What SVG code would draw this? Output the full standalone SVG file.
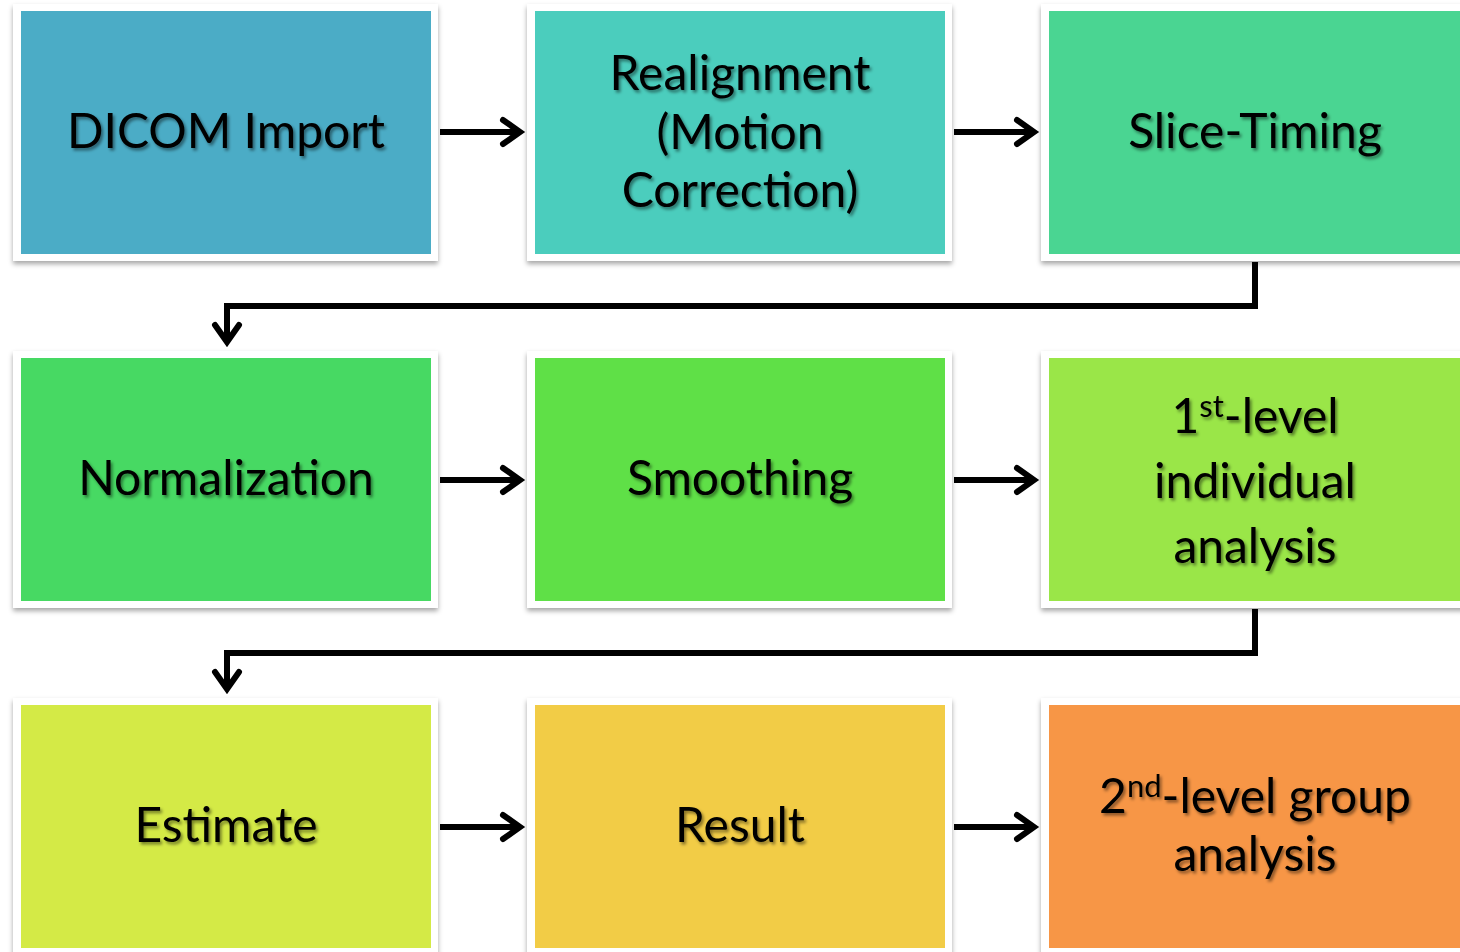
<svg xmlns="http://www.w3.org/2000/svg" width="1460" height="952" viewBox="0 0 1460 952">
<defs>
<filter id="fs" x="-5%" y="-5%" width="110%" height="115%"><feDropShadow dx="0" dy="3" stdDeviation="2.5" flood-color="#000" flood-opacity="0.35"/></filter>
<filter id="ts" x="-5%" y="-10%" width="110%" height="130%"><feDropShadow dx="2" dy="2.5" stdDeviation="1.5" flood-color="#000" flood-opacity="0.45"/></filter>
<marker id="ah" markerUnits="userSpaceOnUse" markerWidth="50" markerHeight="50" viewBox="-25 -25 50 50" refX="0" refY="0" orient="auto"><path d="M-17,-12 L0,0 L-17,12" fill="none" stroke="#000" stroke-width="6" stroke-linecap="round" stroke-linejoin="miter"/></marker>
</defs>
<style>
.frame{fill:#fff;filter:url(#fs)}
.t{font-family:Lato,"Open Sans",sans-serif;font-size:48px;fill:#000;text-anchor:middle;filter:url(#ts)}
.c{fill:none;stroke:#000;stroke-width:6;marker-end:url(#ah)}
.sup{font-size:31px}
</style>
<rect width="1460" height="952" fill="#fff"/>
<g id="n1"><rect class="frame" x="13" y="4" width="425" height="257"/><rect x="21" y="11" width="410" height="243" fill="#4BACC6"/><text class="t" x="226" y="148">DICOM Import</text></g>
<g id="n2"><rect class="frame" x="527" y="4" width="425" height="257"/><rect x="535" y="11" width="410" height="243" fill="#4BCDBD"/><text class="t" x="740" y="90">Realignment</text><text class="t" x="740" y="149">(Motion</text><text class="t" x="740" y="207">Correction)</text></g>
<g id="n3"><rect class="frame" x="1041" y="4" width="425" height="257"/><rect x="1049" y="11" width="411" height="243" fill="#4AD592"/><text class="t" x="1255" y="148">Slice-Timing</text></g>
<g id="n4"><rect class="frame" x="13" y="351" width="425" height="257"/><rect x="21" y="358" width="410" height="243" fill="#47D963"/><text class="t" x="226" y="495">Normalization</text></g>
<g id="n5"><rect class="frame" x="527" y="351" width="425" height="257"/><rect x="535" y="358" width="410" height="243" fill="#5FE047"/><text class="t" x="740" y="495">Smoothing</text></g>
<g id="n6"><rect class="frame" x="1041" y="351" width="425" height="257"/><rect x="1049" y="358" width="411" height="243" fill="#9AE648"/><text class="t" x="1255" y="433">1<tspan class="sup" dy="-16">st</tspan><tspan dy="16">-level</tspan></text><text class="t" x="1255" y="498">individual</text><text class="t" x="1255" y="563">analysis</text></g>
<g id="n7"><rect class="frame" x="13" y="698" width="425" height="257"/><rect x="21" y="705" width="410" height="243" fill="#D4EA46"/><text class="t" x="226" y="842">Estimate</text></g>
<g id="n8"><rect class="frame" x="527" y="698" width="425" height="257"/><rect x="535" y="705" width="410" height="243" fill="#F2CC46"/><text class="t" x="740" y="842">Result</text></g>
<g id="n9"><rect class="frame" x="1041" y="698" width="425" height="257"/><rect x="1049" y="705" width="411" height="243" fill="#F79646"/><text class="t" x="1255" y="813">2<tspan class="sup" dy="-16">nd</tspan><tspan dy="16">-level group</tspan></text><text class="t" x="1255" y="871">analysis</text></g>
<g id="connectors">
<path class="c" d="M440,132 H520"/>
<path class="c" d="M954,132 H1034"/>
<path class="c" d="M440,480 H520"/>
<path class="c" d="M954,480 H1034"/>
<path class="c" d="M440,827 H520"/>
<path class="c" d="M954,827 H1034"/>
<path class="c" d="M1255,262 V306 H227 V342"/>
<path class="c" d="M1255,609 V653 H227 V689"/>
</g>
</svg>
